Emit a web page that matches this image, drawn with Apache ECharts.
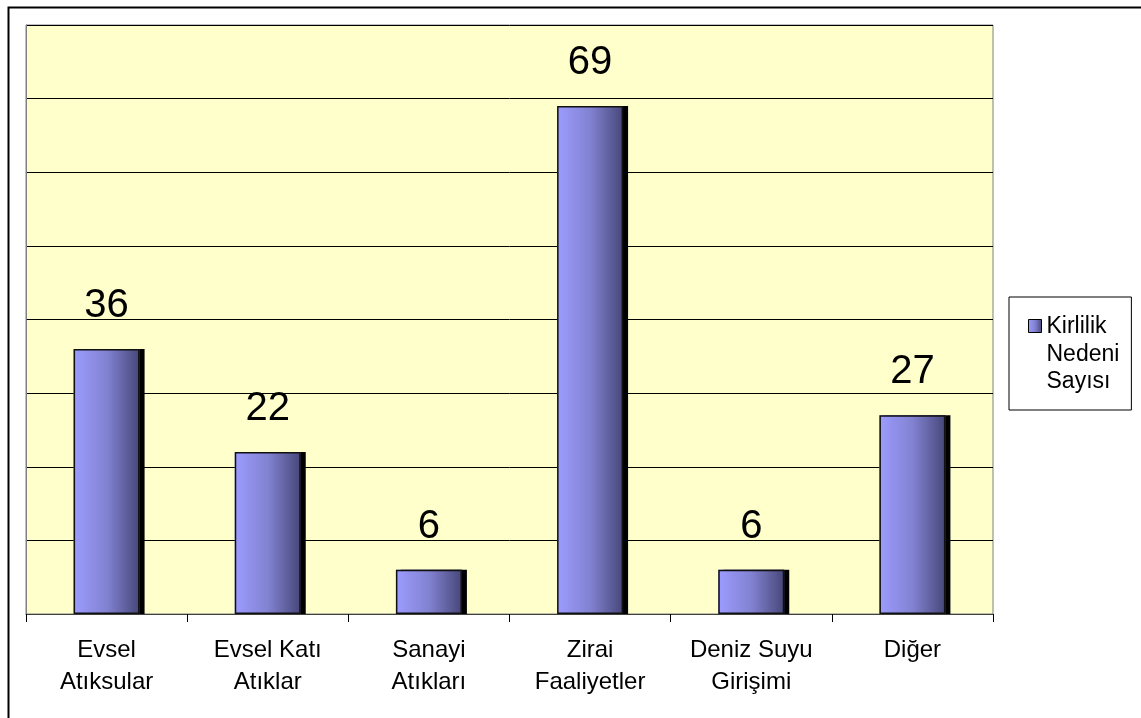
<!DOCTYPE html>
<html>
<head>
<meta charset="utf-8">
<script src="https://cdn.jsdelivr.net/npm/echarts@6/dist/echarts.min.js"></script>
<style>
    html, body { margin: 0; padding: 0; background: #fff; }
    #myChart { width: 1141px; height: 718px; }
</style>
</head>
<body>
<div id="myChart"></div>
<script>
// kategori adlari (x ekseni)
var categories = ['Evsel\nAtıksular', 'Evsel Katı\nAtıklar', 'Sanayi\nAtıkları', 'Zirai\nFaaliyetler', 'Deniz Suyu\nGirişimi', 'Diğer'];
// kirlilik nedeni sayisi
var values = [36, 22, 6, 69, 6, 27];
var seriesName = 'Kirlilik\nNedeni\nSayısı';
// y ekseni: 0 - 80, 10'ar
var yMin = 0;
var yMax = 80;
var yStep = 10;

var font = '"Liberation Sans", Arial, sans-serif';

var barColor = new echarts.graphic.LinearGradient(0, 0, 1, 0, [
    { offset: 0, color: '#9c9cff' },
    { offset: 0.5, color: '#8282d2' },
    { offset: 1, color: '#47477a' }
]);

var myChart = echarts.init(document.getElementById('myChart'));

var option = {
    backgroundColor: '#fff',
    animation: false,
    textStyle: { fontFamily: font },
    grid: {
        left: 26,
        top: 25,
        right: 148,
        bottom: 104,
        show: true,
        backgroundColor: '#ffffcc',
        borderColor: '#808080',
        borderWidth: 1
    },
    legend: {
        left: 1009,
        top: 297,
        orient: 'vertical',
        backgroundColor: '#fff',
        borderColor: '#000',
        borderWidth: 1,
        borderRadius: 0,
        padding: [16, 12, 14, 19],
        itemWidth: 13,
        itemHeight: 82,
        // kare ikon ilk satir hizasinda dursun
        icon: 'path://M0,6H13V19H0Z M0,0 M0,82',
        itemStyle: {
            color: barColor,
            borderColor: '#000',
            borderWidth: 1,
            shadowColor: 'transparent',
            shadowBlur: 0,
            shadowOffsetX: 0,
            shadowOffsetY: 0
        },
        textStyle: {
            fontFamily: font,
            fontSize: 23,
            lineHeight: 27.5,
            color: '#000'
        },
        data: [seriesName]
    },
    xAxis: {
        type: 'category',
        data: categories,
        boundaryGap: true,
        axisLine: { show: true, lineStyle: { color: '#404040', width: 1 } },
        axisTick: { show: true, length: 8, lineStyle: { color: '#000', width: 1 } },
        axisLabel: {
            interval: 0,
            margin: 20,
            fontFamily: font,
            fontSize: 24,
            lineHeight: 32,
            color: '#000',
            align: 'center'
        },
        splitLine: { show: false }
    },
    yAxis: {
        type: 'value',
        min: yMin,
        max: yMax,
        interval: yStep,
        axisLine: { show: true, lineStyle: { color: '#808080' } },
        axisTick: { show: false },
        axisLabel: { show: false },
        splitLine: { show: true, lineStyle: { color: '#000', width: 1 } }
    },
    series: [
        {
            // dolgu + golge
            name: seriesName,
            type: 'bar',
            data: values,
            barWidth: 66,
            z: 2,
            itemStyle: {
                color: barColor,
                borderWidth: 0,
                shadowColor: '#000',
                shadowBlur: 0,
                shadowOffsetX: 5,
                shadowOffsetY: 0
            },
            label: {
                show: true,
                position: 'top',
                distance: 23,
                fontFamily: font,
                fontSize: 40,
                color: '#000'
            }
        },
        {
            // siyah kenar cizgisi (golgesiz)
            name: 'kenar',
            type: 'bar',
            data: values,
            barWidth: 66,
            barGap: '-100%',
            z: 3,
            silent: true,
            itemStyle: {
                color: 'transparent',
                borderColor: '#111',
                borderWidth: 1.5
            },
            label: { show: false }
        }
    ],
    graphic: [
        {
            // dis cerceve (sag ve alt kenar resmin disinda)
            type: 'rect',
            left: 6,
            top: 5,
            shape: { x: 0, y: 0, width: 1300, height: 900 },
            style: { fill: null, stroke: '#000', lineWidth: 2 },
            silent: true,
            z: 100
        }
    ]
};

myChart.setOption(option);
window.addEventListener('resize', function() {
    myChart.resize();
});
</script>
</body>
</html>
